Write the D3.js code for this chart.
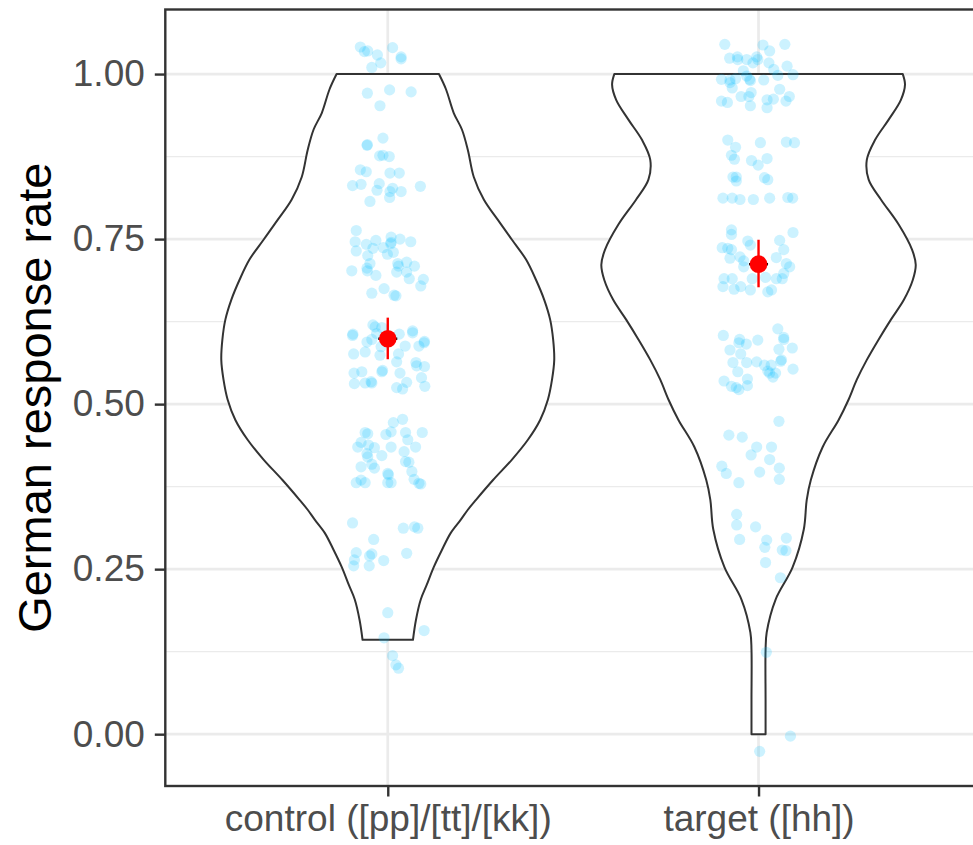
<!DOCTYPE html>
<meta charset="utf-8">
<style>
body { margin: 0; background: #fff; }
text { font-family: "Liberation Sans", Arial, sans-serif; }
</style>
<body>
<script src="https://d3js.org/d3.v7.min.js"></script>
<script>

// categories and axis ticks
var categories = ["control ([pp]/[tt]/[kk])", "target ([hh])"];
var yTicks = [0, 0.25, 0.5, 0.75, 1];
var yTickLabels = ["0.00", "0.25", "0.50", "0.75", "1.00"];
var yMinor = [0.125, 0.375, 0.625, 0.875];

// jittered points: [x offset in category units, response rate]
var controlPoints = [
  [-0.074,1.041],[-0.063,1.034],[-0.054,1.035],[0.013,1.040],[0.036,1.026],[0.036,1.023],[-0.028,1.029],[-0.019,1.017],[-0.043,1.010],
  [-0.055,0.971],[0.005,0.976],[0.063,0.973],[-0.021,0.952],[-0.013,0.903],[-0.056,0.892],[-0.055,0.893],[-0.022,0.876],[-0.013,0.877],[0.004,0.875],
  [-0.074,0.855],[-0.058,0.852],[0.006,0.850],[0.031,0.850],[-0.095,0.831],[-0.072,0.833],[-0.023,0.834],[-0.029,0.824],[0.006,0.822],[0.013,0.827],
  [0.005,0.813],[0.036,0.822],[0.088,0.830],[-0.048,0.807],
  [-0.085,0.763],[-0.088,0.746],[-0.085,0.732],[-0.058,0.742],[-0.032,0.748],[-0.040,0.736],[-0.012,0.737],[0.009,0.753],[0.009,0.745],[0.008,0.743],
  [0.033,0.750],[0.062,0.746],[0.015,0.730],[-0.001,0.727],[-0.054,0.725],[-0.048,0.713],[-0.056,0.706],[-0.055,0.702],[-0.097,0.702],[-0.032,0.695],
  [0.027,0.713],[0.029,0.709],[0.051,0.715],[0.072,0.709],[0.024,0.700],[0.051,0.700],[0.058,0.690],[0.096,0.689],
  [-0.043,0.668],[-0.010,0.675],[0.017,0.665],[0.022,0.664],[0.089,0.679],
  [-0.095,0.604],[-0.094,0.606],[-0.040,0.620],[-0.034,0.617],[-0.016,0.616],[-0.056,0.594],[-0.043,0.598],[-0.030,0.607],[0.031,0.606],[0.067,0.611],
  [0.067,0.608],[0.047,0.588],[0.084,0.588],[0.099,0.595],[0.098,0.593],
  [-0.092,0.576],[-0.061,0.579],[-0.021,0.574],[-0.018,0.587],[0.029,0.576],[0.024,0.564],[0.076,0.563],[0.078,0.558],[0.099,0.557],[-0.091,0.547],
  [-0.070,0.549],[-0.016,0.549],[-0.014,0.551],[0.033,0.547],[0.091,0.540],[-0.090,0.531],[-0.061,0.532],[-0.045,0.534],[-0.043,0.532],[0.051,0.533],
  [0.024,0.525],[0.040,0.523],[0.100,0.527],
  [0.040,0.477],[0.015,0.472],[-0.061,0.457],[-0.054,0.455],[-0.005,0.454],[0.009,0.458],[0.048,0.457],[0.093,0.457],[0.054,0.446],[-0.072,0.442],
  [-0.081,0.435],[-0.052,0.438],[-0.036,0.434],[0.009,0.435],[0.075,0.435],[-0.056,0.425],[-0.016,0.422],[0.044,0.428],[-0.054,0.420],[-0.072,0.405],
  [-0.043,0.409],[-0.036,0.403],[0.048,0.413],[0.057,0.412],[0.065,0.398],[0.000,0.395],[0.002,0.393],[-0.085,0.381],[-0.072,0.385],[-0.061,0.381],
  [0.000,0.381],[0.009,0.381],[0.071,0.386],[0.084,0.380],[0.089,0.379],
  [-0.095,0.320],[0.042,0.312],[0.072,0.314],[0.081,0.312],[-0.038,0.295],[-0.085,0.275],[-0.090,0.264],[-0.092,0.255],[-0.049,0.270],[-0.043,0.273],
  [-0.050,0.255],[-0.011,0.263],[0.051,0.274],
  [0.000,0.184],[0.098,0.157],[-0.010,0.146],[0.013,0.119],[0.022,0.105],[0.029,0.100]
];

var targetPoints = [
  [-0.091,1.045],[0.012,1.044],[0.071,1.045],[0.030,1.035],[-0.078,1.024],[-0.057,1.026],[-0.056,1.022],[-0.032,1.022],[-0.015,1.017],[-0.005,1.026],
  [-0.002,1.022],[0.028,1.017],[0.077,1.012],[-0.041,1.005],[0.041,1.007],[0.052,0.998],[0.093,0.999],[-0.100,0.992],[-0.077,0.991],[-0.077,0.987],
  [-0.062,0.993],[-0.032,0.997],[-0.024,0.992],[-0.022,0.990],[0.014,0.991],[-0.071,0.979],[0.057,0.977],[-0.020,0.972],[-0.047,0.966],[-0.026,0.966],
  [-0.100,0.959],[-0.084,0.957],[-0.022,0.952],[0.023,0.961],[0.040,0.962],[0.023,0.949],[0.074,0.959],[0.083,0.966],
  [-0.083,0.900],[-0.062,0.889],[0.005,0.896],[0.075,0.897],[0.097,0.896],[-0.073,0.877],[-0.065,0.871],[-0.019,0.869],[-0.001,0.862],[0.023,0.872],
  [-0.069,0.844],[-0.060,0.844],[-0.060,0.838],[0.016,0.843],[0.025,0.840],
  [-0.096,0.812],[-0.071,0.812],[-0.050,0.810],[-0.014,0.810],[0.030,0.812],[0.079,0.813],[0.092,0.812],
  [-0.073,0.764],[-0.073,0.757],[0.093,0.760],[-0.029,0.747],[0.057,0.748],[-0.098,0.737],[-0.083,0.736],[-0.073,0.734],[-0.022,0.741],[0.068,0.734],
  [-0.077,0.721],[-0.050,0.723],[-0.040,0.717],[0.048,0.722],[0.075,0.713],[0.084,0.708],[-0.040,0.708],[0.068,0.698],[-0.093,0.690],[-0.071,0.690],
  [-0.017,0.690],[0.019,0.692],[0.048,0.690],[0.064,0.690],
  [-0.096,0.678],[-0.066,0.674],[-0.048,0.678],[-0.022,0.673],[0.025,0.670],[0.035,0.673],
  [-0.095,0.604],[0.052,0.614],[-0.051,0.598],[-0.053,0.593],[-0.033,0.591],[-0.002,0.597],[0.068,0.601],[0.068,0.598],[0.091,0.585],[-0.077,0.582],
  [-0.048,0.576],[0.055,0.583],[-0.069,0.563],[-0.032,0.563],[-0.005,0.564],[0.016,0.559],[0.034,0.559],[0.062,0.567],[0.060,0.565],[0.093,0.553],
  [-0.056,0.549],[0.025,0.550],[0.030,0.547],[0.046,0.547],[0.039,0.541],[-0.093,0.535],[-0.030,0.538],[-0.073,0.527],[-0.060,0.525],[-0.053,0.522],
  [-0.030,0.528],
  [0.055,0.474],[-0.080,0.453],[-0.044,0.450],[-0.005,0.435],[0.035,0.435],[-0.020,0.423],[0.030,0.416],[-0.099,0.406],[-0.087,0.395],[0.003,0.397],
  [0.056,0.403],[0.056,0.386],[-0.053,0.381],
  [-0.059,0.333],[-0.059,0.317],[-0.008,0.314],[-0.051,0.295],[0.022,0.294],[0.075,0.297],[0.017,0.283],[0.064,0.279],[0.074,0.278],[0.019,0.260],
  [0.059,0.237],[0.021,0.124],[0.086,-0.003],[0.003,-0.026]
];

// violin outlines: value and half width (category units)
var controlViolinY = [0.143,0.173,0.204,0.226,0.253,0.279,0.305,0.325,0.340,0.355,0.385,0.416,0.446,0.476,0.507,0.537,0.567,0.598,0.628,0.658,0.688,0.719,0.749,0.779,0.810,0.844,0.885,0.916,0.941,0.977,1.000];
var controlViolinHalf = [0.068,0.076,0.089,0.105,0.124,0.146,0.170,0.197,0.216,0.238,0.284,0.335,0.378,0.411,0.432,0.443,0.449,0.446,0.438,0.422,0.400,0.373,0.335,0.297,0.259,0.232,0.216,0.200,0.178,0.157,0.138];
var targetViolinY = [0.000,0.052,0.128,0.154,0.204,0.253,0.310,0.355,0.385,0.435,0.476,0.507,0.537,0.567,0.598,0.628,0.658,0.688,0.711,0.734,0.772,0.810,0.840,0.870,0.900,0.931,0.961,0.984,1.000];
var targetViolinHalf = [0.019,0.019,0.019,0.022,0.046,0.092,0.122,0.130,0.141,0.173,0.216,0.243,0.265,0.292,0.324,0.357,0.392,0.416,0.424,0.414,0.378,0.330,0.297,0.292,0.314,0.351,0.384,0.395,0.389];

// mean and interval
var means = [0.599, 0.712];
var lowers = [0.568, 0.677];
var uppers = [0.631, 0.749];

var margin = {top: 9.5, left: 165.3},
    panelRight = 981,
    panelBottom = 786;

var svg = d3.select("body").append("svg")
    .attr("width", 973)
    .attr("height", 845);

var x = d3.scaleLinear().domain([0.4, 2.6]).range([margin.left, panelRight]);
var y = d3.scaleLinear().domain([-0.0785, 1.0978]).range([panelBottom, margin.top]);

// panel background
svg.append("rect")
    .attr("x", margin.left).attr("y", margin.top)
    .attr("width", panelRight - margin.left).attr("height", panelBottom - margin.top)
    .attr("fill", "#fff");

// gridlines
svg.selectAll(".minor").data(yMinor).enter().append("line")
    .attr("x1", margin.left).attr("x2", panelRight)
    .attr("y1", function(d) { return y(d); }).attr("y2", function(d) { return y(d); })
    .attr("stroke", "#ebebeb").attr("stroke-width", 1.3);
svg.selectAll(".major").data(yTicks).enter().append("line")
    .attr("x1", margin.left).attr("x2", panelRight)
    .attr("y1", function(d) { return y(d); }).attr("y2", function(d) { return y(d); })
    .attr("stroke", "#ebebeb").attr("stroke-width", 2.7);
svg.selectAll(".vgrid").data(categories).enter().append("line")
    .attr("x1", function(d, i) { return x(i + 1); }).attr("x2", function(d, i) { return x(i + 1); })
    .attr("y1", margin.top).attr("y2", panelBottom)
    .attr("stroke", "#ebebeb").attr("stroke-width", 2.7);

// violins
var sideLine = d3.line().curve(d3.curveCatmullRom.alpha(0.5));
function violinPath(i, ys, hs) {
  var cx = i + 1;
  var right = ys.map(function(v, k) { return [x(cx + hs[k]), y(v)]; });
  var left = ys.map(function(v, k) { return [x(cx - hs[k]), y(v)]; }).reverse();
  return sideLine(right) + "L" + sideLine(left).slice(1) + "Z";
}
var violins = [[controlViolinY, controlViolinHalf], [targetViolinY, targetViolinHalf]];
violins.forEach(function(v, i) {
  svg.append("path")
      .attr("d", violinPath(i, v[0], v[1]))
      .attr("fill", "#fff")
      .attr("stroke", "#333333")
      .attr("stroke-width", 2)
      .attr("stroke-linejoin", "round");
});

// jittered points
[controlPoints, targetPoints].forEach(function(pts, i) {
  svg.append("g").selectAll("circle")
      .data(pts)
    .enter().append("circle")
      .attr("cx", function(d) { return x(i + 1 + d[0]); })
      .attr("cy", function(d) { return y(d[1]); })
      .attr("r", 5.6)
      .attr("fill", "#00bfff")
      .attr("fill-opacity", 0.2);
});

// mean +/- interval
means.forEach(function(m, i) {
  var cx = x(i + 1);
  svg.append("line")
      .attr("x1", cx - 9.5).attr("x2", cx + 9.5)
      .attr("y1", y(m)).attr("y2", y(m))
      .attr("stroke", "#000").attr("stroke-width", 2.5);
  svg.append("line")
      .attr("x1", cx).attr("x2", cx)
      .attr("y1", y(lowers[i])).attr("y2", y(uppers[i]))
      .attr("stroke", "red").attr("stroke-width", 2.4);
  svg.append("circle")
      .attr("cx", cx).attr("cy", y(m))
      .attr("r", 8.8)
      .attr("fill", "red");
});

// panel border (right side falls outside the picture)
svg.append("rect")
    .attr("x", margin.left).attr("y", margin.top)
    .attr("width", panelRight - margin.left).attr("height", panelBottom - margin.top)
    .attr("fill", "none").attr("stroke", "#333333").attr("stroke-width", 2.4);

// y axis
var yAxis = svg.append("g")
    .attr("transform", "translate(" + margin.left + ",0)")
    .call(d3.axisLeft(y).tickValues(yTicks)
      .tickFormat(function(d, i) { return yTickLabels[i]; })
      .tickSize(10.5).tickPadding(10));
yAxis.select(".domain").remove();
yAxis.selectAll(".tick line").attr("stroke", "#333333").attr("stroke-width", 2.4);
yAxis.selectAll(".tick text")
    .attr("fill", "#4d4d4d")
    .style("font-size", "37px")
    .style("font-family", "'Liberation Sans', Arial, sans-serif");

// x axis
var xAxis = svg.append("g")
    .attr("transform", "translate(0," + panelBottom + ")")
    .call(d3.axisBottom(x).tickValues([1, 2])
      .tickFormat(function(d) { return categories[d - 1]; })
      .tickSize(10.5).tickPadding(8));
xAxis.select(".domain").remove();
xAxis.selectAll(".tick line").attr("stroke", "#333333").attr("stroke-width", 2.4);
xAxis.selectAll(".tick text")
    .attr("fill", "#4d4d4d")
    .style("font-size", "37px")
    .style("font-family", "'Liberation Sans', Arial, sans-serif");

// y axis title
svg.append("text")
    .attr("transform", "translate(50.5," + ((margin.top + panelBottom) / 2) + ") rotate(-90)")
    .attr("text-anchor", "middle")
    .attr("fill", "#000")
    .style("font-size", "47px")
    .text("German response rate");

</script>
</body>
